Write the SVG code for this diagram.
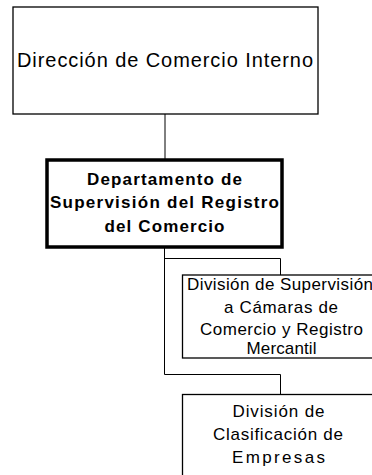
<svg xmlns="http://www.w3.org/2000/svg" width="372" height="475" viewBox="0 0 372 475">
<style>
.box{fill:#fff;stroke:#000;stroke-width:1.3}
.thick{fill:#fff;stroke:#000;stroke-width:3.5}
.conn{fill:none;stroke:#000;stroke-width:1}
text{font-family:"Liberation Sans",Arial,sans-serif;fill:#000;text-anchor:middle}
.t1{font-size:20px}
.t2{font-size:17px;font-weight:bold}
.t3{font-size:17px}
</style>
<rect width="372" height="475" fill="#fff"/>
<g id="connectors">
<path class="conn" d="M165 114 V160"/>
<path class="conn" d="M164.5 247 V374.5 H280.5 V394.5"/>
<path class="conn" d="M164.5 258.5 H280.5 V275"/>
</g>
<g id="n1">
<rect class="box" x="13" y="7" width="305" height="107"/>
<text class="t1" x="165" y="67" textLength="296" lengthAdjust="spacing">Dirección de Comercio Interno</text>
</g>
<g id="n2">
<rect class="thick" x="47" y="160" width="235" height="87"/>
<text class="t2" x="164.5" y="185" textLength="155" lengthAdjust="spacing">Departamento de</text>
<text class="t2" x="164.5" y="208" textLength="229" lengthAdjust="spacing">Supervisión del Registro</text>
<text class="t2" x="164.5" y="231.5" textLength="120" lengthAdjust="spacing">del Comercio</text>
</g>
<g id="n3">
<rect class="box" x="182.5" y="275" width="200" height="83"/>
<text class="t3" x="280" y="289.5" textLength="186" lengthAdjust="spacing">División de Supervisión</text>
<text class="t3" x="281" y="313" textLength="114" lengthAdjust="spacing">a Cámaras de</text>
<text class="t3" x="281.5" y="335" textLength="163" lengthAdjust="spacing">Comercio y Registro</text>
<text class="t3" x="281.5" y="354" textLength="70" lengthAdjust="spacing">Mercantil</text>
</g>
<g id="n4">
<rect class="box" x="182.5" y="394.5" width="200" height="100"/>
<text class="t3" x="278.5" y="417" textLength="92" lengthAdjust="spacing">División de</text>
<text class="t3" x="278" y="440" textLength="130" lengthAdjust="spacing">Clasificación de</text>
<text class="t3" x="278.5" y="463" textLength="93" lengthAdjust="spacing">Empresas</text>
</g>
</svg>
